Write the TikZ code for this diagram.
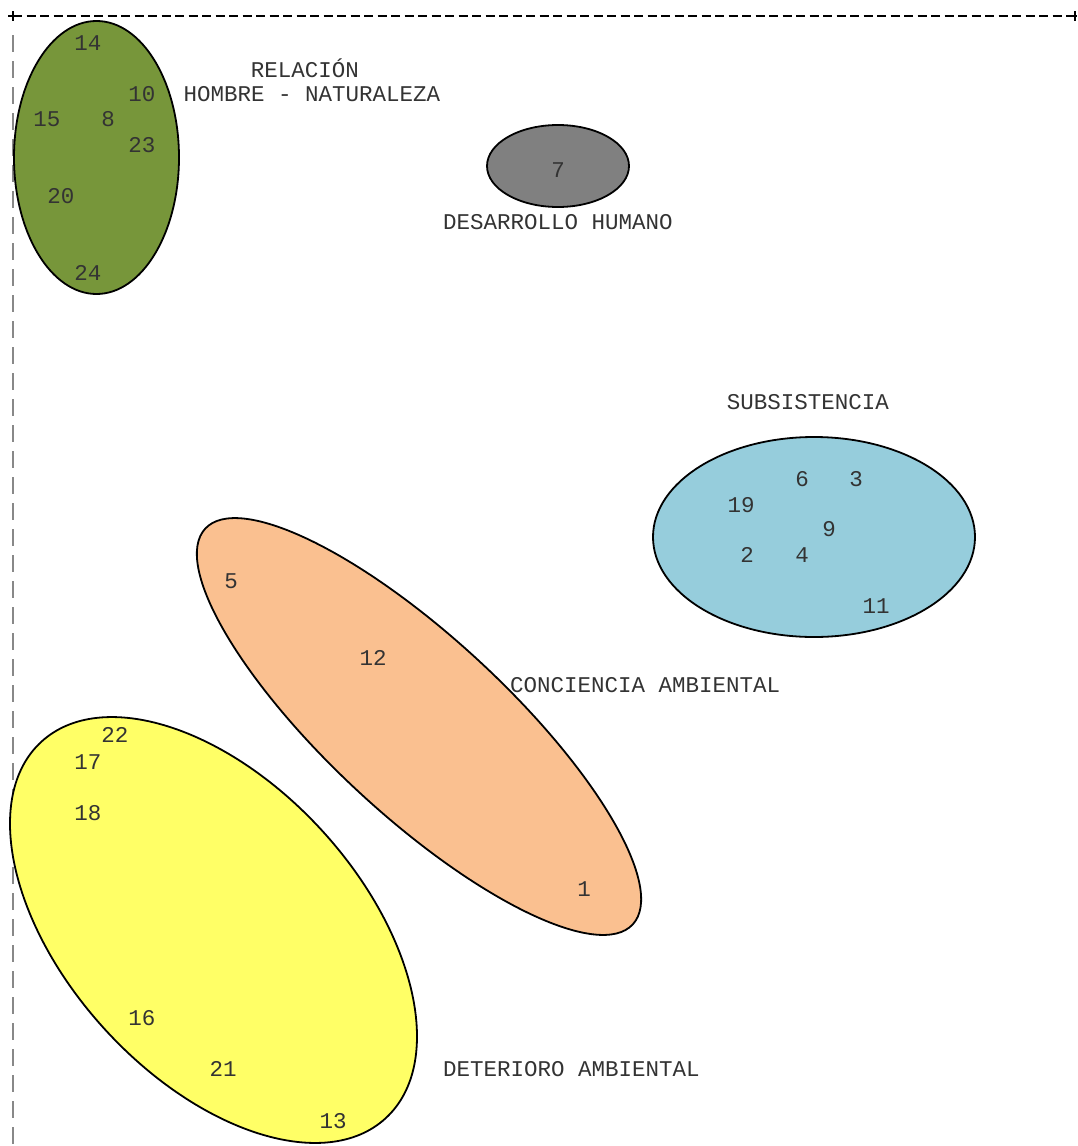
\documentclass[tikz,border=0pt]{standalone}
\usepackage{fontspec}
\newfontfamily\courfont{Liberation Mono}
\definecolor{txtgray}{HTML}{333333}
\definecolor{cgreen}{HTML}{77963A}
\definecolor{cgray}{HTML}{808080}
\definecolor{cblue}{HTML}{96CDDC}
\definecolor{corange}{HTML}{FAC090}
\definecolor{cyellow}{HTML}{FFFF66}
\definecolor{bordergray}{HTML}{888888}
\begin{document}
\begin{tikzpicture}[x=1pt,y=-1pt,
  lbl/.style={font=\courfont\fontsize{22.5}{26}\selectfont, text=txtgray, inner sep=0pt, anchor=center},
  lblw/.style={lbl, anchor=west},
  blob/.style={draw=black, line width=1.8pt}]
\useasboundingbox (0,0) rectangle (1077,1146);
% borders
\draw[black, line width=1.2pt, dash pattern=on 9pt off 4.5pt] (13,16) -- (1075,16);
\draw[black, line width=1.2pt] (8,16) -- (18,16) (13,11) -- (13,21);
\draw[black, line width=1.2pt] (1070,16) -- (1077,16) (1075,11) -- (1075,21);
\draw[bordergray, line width=1.4pt, dash pattern=on 17pt off 9pt] (13,35) -- (13,1146);
% ellipses
\draw[blob, fill=cgreen] (96.5,157.5) ellipse [x radius=82.5pt, y radius=136.5pt];
\draw[blob, fill=cgray] (558,166) ellipse [x radius=71pt, y radius=41pt];
\draw[blob, fill=cblue] (814,537) ellipse [x radius=161pt, y radius=100pt];
\draw[blob, fill=corange, shift={(419,726.5)}, rotate=-42.8] (0,0) ellipse [x radius=291.3pt, y radius=88.9pt];
\draw[blob, fill=cyellow, shift={(213.5,930)}, rotate=-47.6] (0,0) ellipse [x radius=255.1pt, y radius=147.2pt];
% green numbers
\node[lbl] (n14) at (88,43) {14};
\node[lbl] (n10) at (142,94) {10};
\node[lbl] (n15) at (47,119) {15};
\node[lbl] (n8) at (108,119) {8};
\node[lbl] (n23) at (142,145) {23};
\node[lbl] (n20) at (61,196) {20};
\node[lbl] (n24) at (88,273) {24};
% gray
\node[lbl] (n7) at (558,170) {7};
% blue
\node[lbl] (n6) at (802,479) {6};
\node[lbl] (n3) at (856,479) {3};
\node[lbl] (n19) at (741,505) {19};
\node[lbl] (n9) at (829,529) {9};
\node[lbl] (n2) at (747,555) {2};
\node[lbl] (n4) at (802,555) {4};
\node[lbl] (n11) at (876,606) {11};
% orange
\node[lbl] (n5) at (231,581) {5};
\node[lbl] (n12) at (373,658) {12};
\node[lbl] (n1) at (584,889) {1};
% yellow
\node[lbl] (n22) at (115,735) {22};
\node[lbl] (n17) at (88,762) {17};
\node[lbl] (n18) at (88,813) {18};
\node[lbl] (n16) at (142,1018) {16};
\node[lbl] (n21) at (223,1069) {21};
\node[lbl] (n13) at (333,1121) {13};
% labels
\node[lbl] (relA) at (305,68) {RELACIÓN};
\node[lbl] (relB) at (312,94) {HOMBRE - NATURALEZA};
\node[lbl] (desa) at (558,222) {DESARROLLO HUMANO};
\node[lbl] (subs) at (808,402) {SUBSISTENCIA};
\node[lblw] (conc) at (510,685) {CONCIENCIA AMBIENTAL};
\node[lblw] (dete) at (443,1069) {DETERIORO AMBIENTAL};
\end{tikzpicture}
\end{document}
